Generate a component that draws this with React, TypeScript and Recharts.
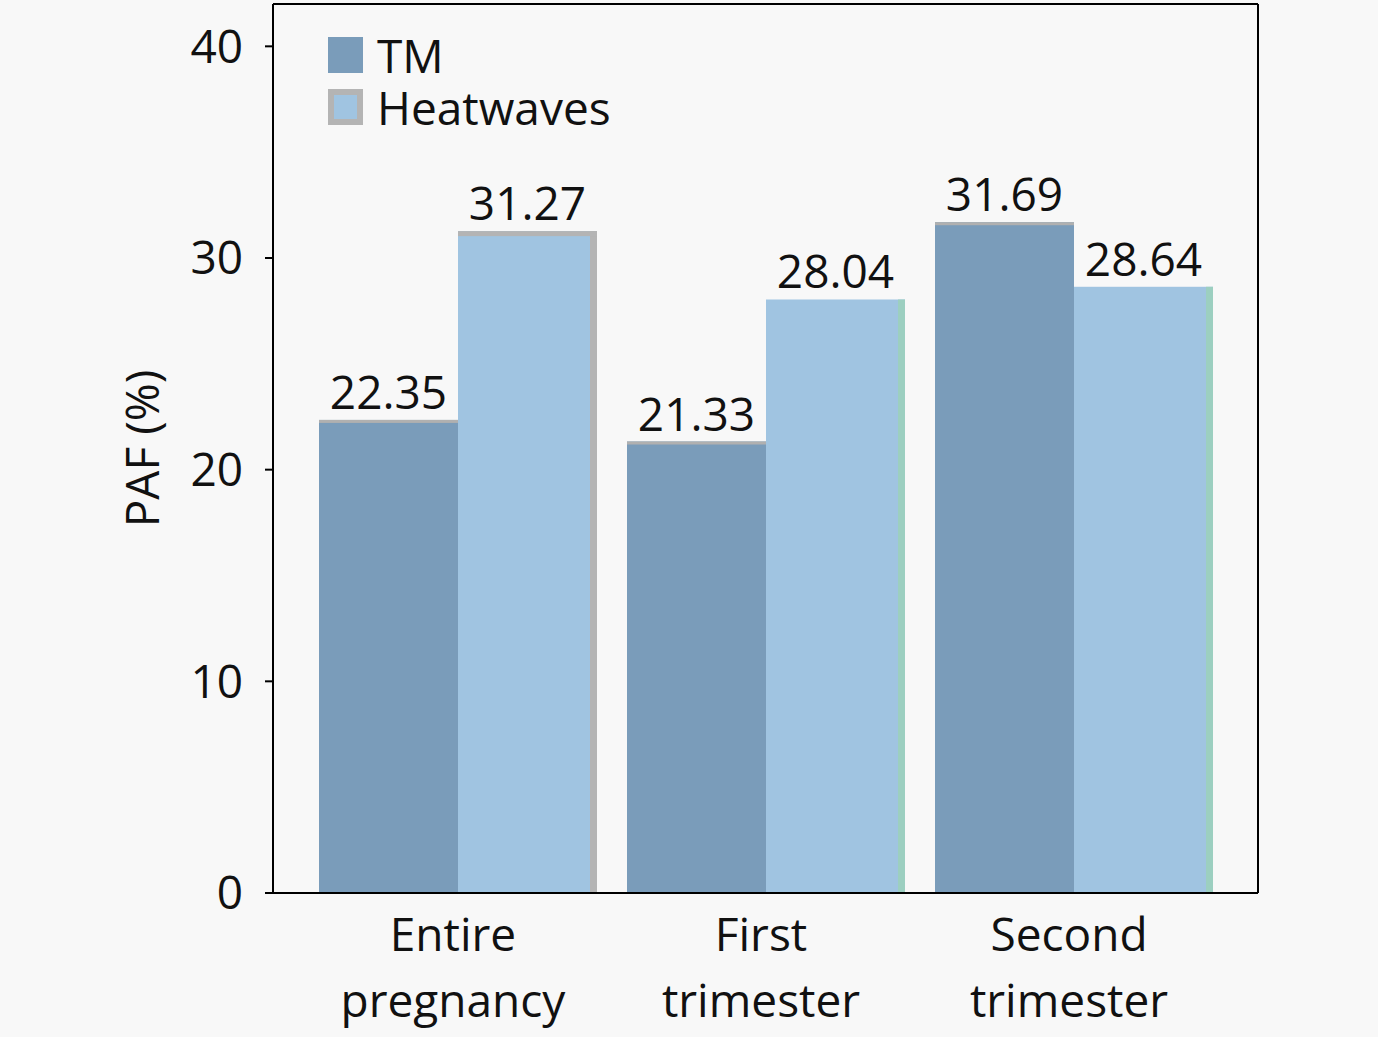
import React from 'react';
import {
  BarChart,
  Bar,
  XAxis,
  YAxis,
  Legend,
  LabelList,
} from 'recharts';

// Values
const periods = ['Entire pregnancy', 'First trimester', 'Second trimester'];
const tmValues = [22.35, 21.33, 31.69];
const heatwaveValues = [31.27, 28.04, 28.64];
const yTicks = [0, 10, 20, 30, 40];

const data = periods.map((period, i) => ({
  period,
  tm: tmValues[i],
  heatwaves: heatwaveValues[i],
}));

const FONT = '"Open Sans", "Noto Sans", sans-serif';
const TM_COLOR = '#7a9cba';
const HW_COLOR = '#a0c4e1';
const EDGE_COLORS = ['#b4b4b4', '#9ccfc0', '#9ccfc0'];

function PeriodTick(props: any) {
  const { x, y, payload } = props;
  const words = String(payload.value).split(' ');
  return (
    <text
      x={x - 5}
      y={y}
      textAnchor="middle"
      fontSize={46}
      fontFamily={FONT}
      fill="#111"
    >
      <tspan x={x - 5} dy={50}>
        {words[0]}
      </tspan>
      <tspan x={x - 5} dy={66}>
        {words.slice(1).join(' ')}
      </tspan>
    </text>
  );
}

function TmShape(props: any) {
  const { x, y, width, height } = props;
  return (
    <g>
      <rect x={x} y={y} width={width} height={height} fill={TM_COLOR} />
      <rect x={x} y={y} width={width} height={3} fill="#b0b0b0" />
    </g>
  );
}

function HeatShape(props: any) {
  const { x, y, width, height, index } = props;
  const edge = EDGE_COLORS[index % EDGE_COLORS.length];
  return (
    <g>
      <rect x={x} y={y} width={width} height={height} fill={HW_COLOR} />
      <rect x={x + width - 7} y={y} width={7} height={height} fill={edge} />
      {index === 0 && (
        <rect x={x} y={y} width={width} height={5} fill={edge} />
      )}
    </g>
  );
}

function LegendContent() {
  const items = [
    { label: 'TM', fill: TM_COLOR, border: TM_COLOR },
    { label: 'Heatwaves', fill: HW_COLOR, border: '#b4b4b4' },
  ];
  return (
    <div style={{ fontFamily: FONT, fontSize: 46, color: '#111' }}>
      {items.map((it) => (
        <div
          key={it.label}
          style={{ display: 'flex', alignItems: 'center', height: 52 }}
        >
          <div
            style={{
              width: 35,
              height: 36,
              boxSizing: 'border-box',
              background: it.fill,
              border: `6px solid ${it.border}`,
              marginRight: 14,
            }}
          />
          <span style={{ lineHeight: '52px' }}>{it.label}</span>
        </div>
      ))}
    </div>
  );
}

export default function App() {
  return (
    <div
      style={{
        position: 'absolute',
        left: 0,
        top: 0,
        width: 1378,
        height: 1037,
        background: '#f8f8f8',
      }}
    >
      <BarChart
        width={1378}
        height={1037}
        data={data}
        margin={{ top: 3, right: 119, bottom: 0, left: 0 }}
        barCategoryGap={15}
        barGap={0}
      >
        <XAxis
          dataKey="period"
          height={144}
          padding={{ left: 31, right: 30 }}
          axisLine={{ stroke: '#000', strokeWidth: 2 }}
          tickLine={false}
          tick={<PeriodTick />}
          interval={0}
        />
        <XAxis
          xAxisId="top"
          dataKey="period"
          orientation="top"
          height={1}
          tick={false}
          tickLine={false}
          axisLine={{ stroke: '#000', strokeWidth: 2 }}
        />
        <YAxis
          width={273}
          domain={[0, 42]}
          ticks={yTicks}
          allowDataOverflow
          tickSize={8}
          tickMargin={22}
          axisLine={{ stroke: '#000', strokeWidth: 2 }}
          tickLine={{ stroke: '#000', strokeWidth: 2 }}
          tick={{ fontSize: 46, fontFamily: FONT, fill: '#111' }}
          label={{
            value: 'PAF (%)',
            angle: -90,
            position: 'insideLeft',
            offset: 143,
            style: {
              textAnchor: 'middle',
              fontSize: 46,
              fontFamily: FONT,
              fill: '#111',
            },
          }}
        />
        <YAxis
          yAxisId="right"
          orientation="right"
          width={1}
          domain={[0, 42]}
          tick={false}
          tickLine={false}
          axisLine={{ stroke: '#000', strokeWidth: 2 }}
        />
        <Legend
          layout="vertical"
          align="center"
          verticalAlign="middle"
          content={<LegendContent />}
          wrapperStyle={{ left: 328, top: 29, width: 'auto' }}
        />
        <Bar
          dataKey="tm"
          name="TM"
          fill={TM_COLOR}
          shape={<TmShape />}
          isAnimationActive={false}
        >
          <LabelList
            dataKey="tm"
            position="top"
            offset={11}
            formatter={(v: any) => Number(v).toFixed(2)}
            style={{ fontSize: 46, fontFamily: FONT, fill: '#111' }}
          />
        </Bar>
        <Bar
          dataKey="heatwaves"
          name="Heatwaves"
          fill={HW_COLOR}
          shape={<HeatShape />}
          isAnimationActive={false}
        >
          <LabelList
            dataKey="heatwaves"
            position="top"
            offset={11}
            formatter={(v: any) => Number(v).toFixed(2)}
            style={{ fontSize: 46, fontFamily: FONT, fill: '#111' }}
          />
        </Bar>
      </BarChart>
    </div>
  );
}
